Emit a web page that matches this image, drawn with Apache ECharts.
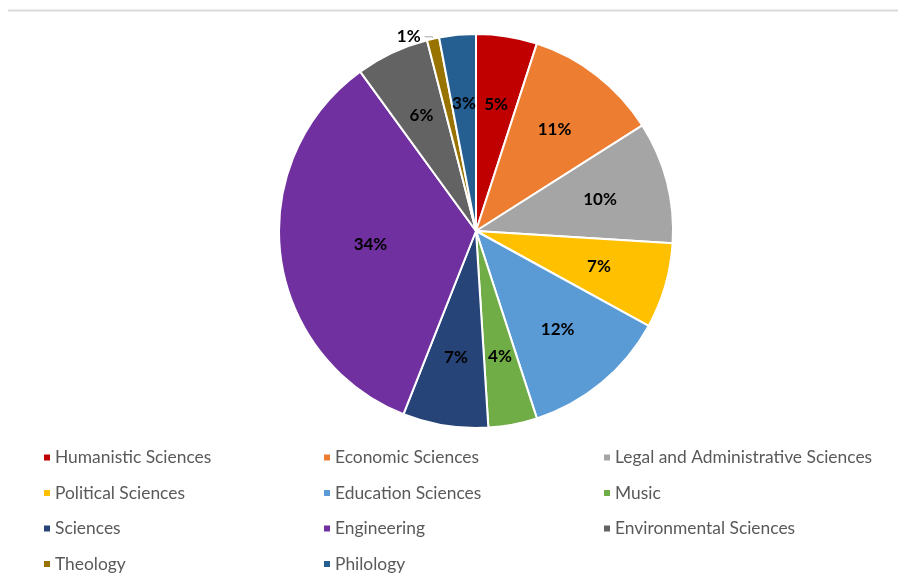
<!DOCTYPE html>
<html>
<head>
<meta charset="utf-8">
<script src="https://cdn.jsdelivr.net/npm/echarts@6/dist/echarts.min.js"></script>
<style>
  html, body { margin: 0; padding: 0; background: #fff; }
  #chart { width: 898px; height: 585px; }
</style>
</head>
<body>
<div id="chart"></div>
<script>
// Share of students by field of study (percent)
const categories = [
  'Humanistic Sciences', 'Economic Sciences', 'Legal and Administrative Sciences',
  'Political Sciences', 'Education Sciences', 'Music', 'Sciences', 'Engineering',
  'Environmental Sciences', 'Theology', 'Philology'
];
const shares = [5, 11, 10, 7, 12, 4, 7, 34, 6, 1, 3];
const colors = [
  '#C00000', '#ED7D31', '#A5A5A5', '#FFC000', '#5B9BD5', '#70AD47',
  '#264478', '#7030A0', '#636363', '#997300', '#255E91'
];

// legend columns (row-major order, three per row)
const legendColumns = [
  [categories[0], categories[3], categories[6], categories[9]],
  [categories[1], categories[4], categories[7], categories[10]],
  [categories[2], categories[5], categories[8]]
];

const CX = 476, CY = 231, R = 197;
const FONT = 'Lato, "Open Sans", sans-serif';

const chart = echarts.init(document.getElementById('chart'));

const legendLefts = [42, 322, 602];
const legends = legendColumns.map((col, i) => ({
  data: col,
  orient: 'vertical',
  left: legendLefts[i],
  top: 449,
  icon: 'rect',
  itemWidth: 8,
  itemHeight: 8,
  itemGap: 18.5,
  selectedMode: false,
  padding: 0,
  textStyle: { color: '#595959', fontSize: 17.4, fontFamily: FONT, lineHeight: 16, padding: [0, 0, 0, -1] }
}));

chart.setOption({
  animation: false,
  color: colors,
  graphic: [{
    type: 'line',
    shape: { x1: 8, y1: 10.5, x2: 898, y2: 10.5 },
    style: { stroke: '#d9d9d9', lineWidth: 2 }
  }],
  legend: legends,
  series: [{
    type: 'pie',
    center: [CX, CY],
    radius: R,
    startAngle: 90,
    clockwise: true,
    avoidLabelOverlap: false,
    itemStyle: { borderColor: '#ffffff', borderWidth: 2 },
    label: {
      position: 'inside',
      formatter: p => Math.round(p.percent) + '%',
      color: '#000',
      fontWeight: 'bold',
      fontSize: 17,
      fontFamily: FONT
    },
    labelLine: { show: false },
    labelLayout: function (params) {
      if (params.dataIndex === 9) return {};
      const r = params.labelRect;
      const lx = r.x + r.width / 2, ly = r.y + r.height / 2;
      const dx = lx - CX, dy = ly - CY;
      const d = Math.sqrt(dx * dx + dy * dy) || 1;
      const target = shares[params.dataIndex] > 25 ? R * 0.54 : R * 0.65;
      return { x: CX + dx / d * target, y: CY + dy / d * target, align: 'center', verticalAlign: 'middle' };
    },
    data: categories.map((name, i) => {
      const item = { name: name, value: shares[i] };
      if (i === 9) {
        item.label = { position: 'outside', distanceToLabelLine: 4 };
        item.labelLine = { show: true, length: 2, length2: 8, lineStyle: { color: '#a6a6a6', width: 1 } };
      }
      return item;
    })
  }]
});
</script>
</body>
</html>
